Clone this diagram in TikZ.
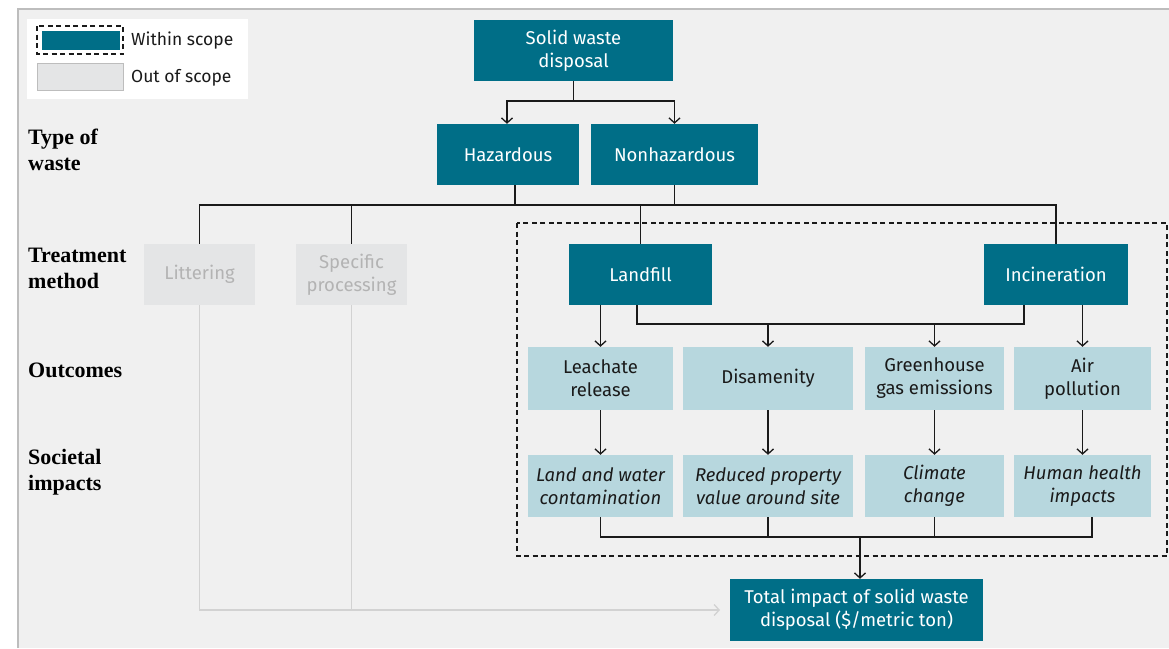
\documentclass[tikz,border=0pt]{standalone}
\usepackage{fontspec}
\setmainfont{Fira Sans}
\newfontfamily\lblfont{Liberation Serif}
\usetikzlibrary{arrows.meta}
\definecolor{teal0}{HTML}{006E87}
\definecolor{lblue}{HTML}{B7D7DE}
\definecolor{panel}{HTML}{F0F0F0}
\definecolor{panelline}{HTML}{BDBDBD}
\definecolor{oosfill}{HTML}{E4E5E6}
\definecolor{oostext}{HTML}{B3B3B3}
\definecolor{oosline}{HTML}{D2D2D2}
\definecolor{ink}{HTML}{1A1A1A}
\begin{document}
\begin{tikzpicture}[x=1pt,y=-1pt,
  base/.style={inner sep=0pt, align=center, font=\fontsize{18.5}{23}\selectfont},
  tealbox/.style={base, fill=teal0, text=white, minimum height=61pt},
  outbox/.style={base, fill=lblue, text=ink, minimum height=63pt},
  impbox/.style={base, fill=lblue, text=ink, minimum height=62pt, font=\fontsize{18.5}{23}\selectfont\itshape},
  oosbox/.style={base, fill=oosfill, text=oostext, minimum width=111pt, minimum height=61pt},
  rowlbl/.style={anchor=west, align=left, inner sep=0pt, text=black, font=\lblfont\bfseries\fontsize{22}{26}\selectfont},
  conn/.style={draw=ink, line width=1.3pt},
  arr/.style={conn, -{Straight Barb[length=5pt,width=11pt]}},
  oosconn/.style={draw=oosline, line width=1.3pt},
  scopeline/.style={draw=ink, line width=1.1pt, dash pattern=on 5pt off 3.5pt},
  legtext/.style={anchor=west, inner sep=0pt, text=ink, font=\fontsize{17.5}{20}\selectfont}
]
\useasboundingbox (0,0) rectangle (1169,648);
\fill[white] (0,0) rectangle (1169,648);
\fill[panel] (18,9) rectangle (1169,648);
\draw[panelline, line width=1.5pt] (18,648) -- (18,9) -- (1169,9);

% legend
\fill[white] (27,19) rectangle (248,99);
\draw[scopeline] (37,26) rectangle (123,54);
\fill[teal0] (42,31) rectangle (120,50);
\draw[panelline, fill=oosfill, line width=1pt] (37,63) rectangle (123,90);
\node[legtext] (lw) at (131,41) {Within scope};
\node[legtext] (lo) at (131,78) {Out of scope};

% row labels
\node[rowlbl] (r1) at (28,150) {Type of\\waste};
\node[rowlbl] (r2) at (28,268) {Treatment\\method};
\node[rowlbl] (r3) at (28,370) {Outcomes};
\node[rowlbl] (r4) at (28,472) {Societal\\impacts};

% scope box
\draw[scopeline] (517,223) rectangle (1167,556);

% nodes
\node[tealbox, minimum width=199pt] (sw) at (573.5,50.5) {Solid waste\\disposal};
\node[tealbox, minimum width=142pt] (haz) at (508,154.5) {Hazardous};
\node[tealbox, minimum width=167pt] (non) at (674.5,154.5) {Nonhazardous};
\node[oosbox] (lit) at (199.5,274.5) {Littering};
\node[oosbox] (spec) at (351.5,274.5) {Specific\\processing};
\node[tealbox, minimum width=143pt] (land) at (640.5,274.5) {Landfill};
\node[tealbox, minimum width=144pt] (inc) at (1056,274.5) {Incineration};

\node[outbox, minimum width=145pt] (o1) at (600.5,378.5) {Leachate\\release};
\node[outbox, minimum width=170pt] (o2) at (768,378.5) {Disamenity};
\node[outbox, minimum width=139pt] (o3) at (934.5,378.5) {Greenhouse\\gas emissions};
\node[outbox, minimum width=137pt] (o4) at (1082.5,378.5) {Air\\pollution};

\node[impbox, minimum width=145pt] (i1) at (600.5,486) {Land and water\\contamination};
\node[impbox, minimum width=170pt] (i2) at (768,486) {Reduced property\\value around site};
\node[impbox, minimum width=139pt] (i3) at (934.5,486) {Climate\\change};
\node[impbox, minimum width=137pt] (i4) at (1082.5,486) {Human health\\impacts};

\node[tealbox, minimum width=253pt, minimum height=62pt] (tot) at (856.5,610) {Total impact of solid waste\\disposal (\$/metric ton)};

% coordinates
\coordinate (b1) at (573.5,101);
\coordinate (bar) at (0,205);
\coordinate (lbar) at (0,324);
\coordinate (ibar) at (0,537);
\coordinate (gbar) at (0,610);
\coordinate (gend) at (720,610);

% connectors top
\draw[conn] (sw.south) -- (b1);
\draw[arr] (b1) -| ([xshift=-1pt]haz.north);
\draw[arr] (b1) -| (non.north);
\draw[conn] (lit.north) -- (lit.north |- bar) -- (inc.north |- bar) -- (inc.north);
\draw[conn] (spec.north) -- (spec.north |- bar);
\draw[conn] ([xshift=7pt]haz.south) -- ([xshift=7pt]haz.south |- bar);
\draw[conn] (non.south) -- (non.south |- bar);
\draw[conn] (land.north) -- (land.north |- bar);

% landfill / incineration to outcomes
\draw[conn] ([xshift=-3.5pt]land.south) -- ([xshift=-3.5pt]land.south |- lbar) -- ([xshift=-32pt]inc.south |- lbar) -- ([xshift=-32pt]inc.south);
\draw[arr] (o2.north |- lbar) -- (o2.north);
\draw[arr] (o3.north |- lbar) -- (o3.north);
\draw[arr] (o1.north |- land.south) -- (o1.north);
\draw[arr] (o4.north |- inc.south) -- (o4.north);

% outcomes to impacts
\draw[arr] (o1.south) -- (i1.north);
\draw[arr] (o2.south) -- (i2.north);
\draw[arr] (o3.south) -- (i3.north);
\draw[arr] (o4.south) -- (i4.north);

% impacts to total
\draw[conn] (i1.south) -- (i1.south |- ibar) -- ([xshift=9.5pt]i4.south |- ibar) -- ([xshift=9.5pt]i4.south);
\draw[conn] (i2.south) -- (i2.south |- ibar);
\draw[conn] (i3.south) -- (i3.south |- ibar);
\draw[arr] ([xshift=3.5pt]tot.north |- ibar) -- ([xshift=3.5pt]tot.north);

% out of scope
\draw[oosconn, -{Straight Barb[length=5pt,width=11pt]}] (lit.south) -- (lit.south |- gbar) -- (gend);
\draw[oosconn] (spec.south) -- (spec.south |- gbar);
\end{tikzpicture}
\end{document}
